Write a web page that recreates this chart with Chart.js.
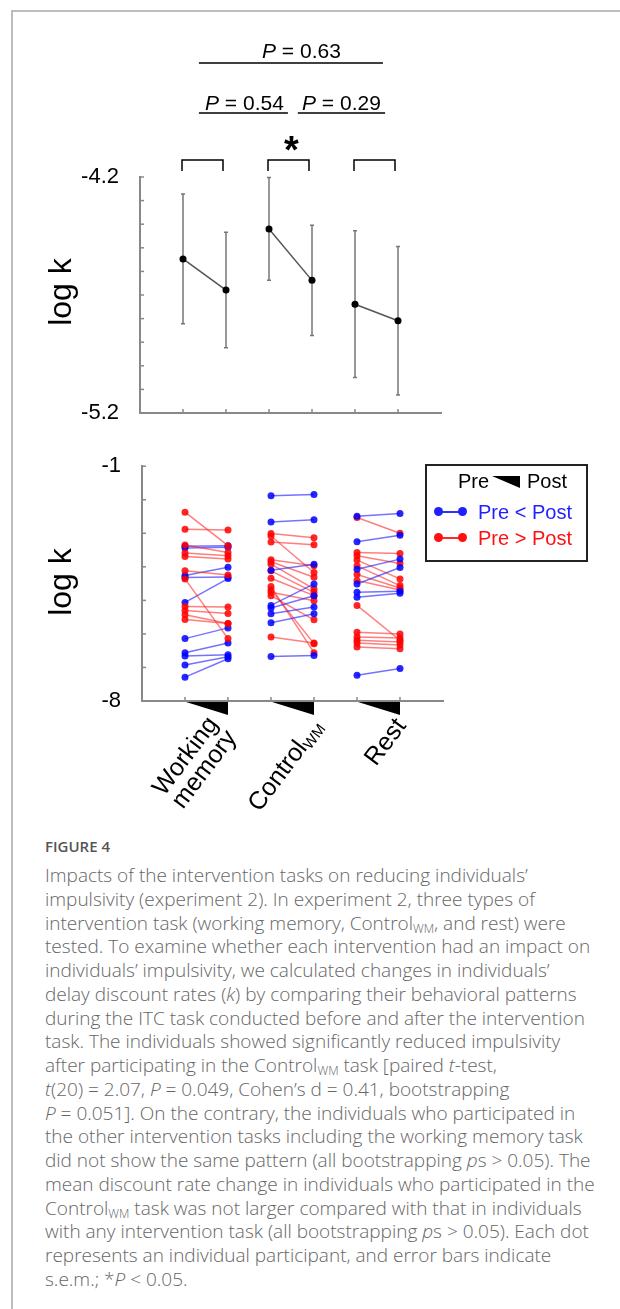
<!DOCTYPE html>
<html>
<head>
<meta charset="utf-8">
<script src="https://cdn.jsdelivr.net/npm/chart.js@4.4.1/dist/chart.umd.min.js"></script>
<style>
  body { margin: 0; background: #fff; }
  #page { position: relative; width: 620px; height: 1309px; overflow: hidden; font-family: 'Liberation Sans', Arial, sans-serif; }
  #frame { position: absolute; left: 11px; top: 10px; width: 640px; height: 1320px; border-top: 2px solid #bdbdbd; border-left: 2px solid #bdbdbd; }
  canvas { position: absolute; left: 0; }
  .abs { position: absolute; white-space: nowrap; }
  .ptxt { font-size: 21px; line-height: 21px; color: #000; }
  .ylab { font-size: 32px; line-height: 32px; color: #000; transform: translate(-50%, -50%) rotate(-90deg); }
  .xlab { font-size: 25px; line-height: 23px; color: #000; text-align: right; transform: translate(-100%, 0) rotate(-53deg); transform-origin: 100% 0; }
  .xlab sub { font-size: 15px; vertical-align: -3px; line-height: 0; }
  #legend { position: absolute; left: 425px; top: 464px; width: 159px; height: 94px; border: 2px solid #222; font-size: 20px; }
  #legend div { position: absolute; white-space: nowrap; line-height: 20px; }
  .tri { width: 0; height: 0; border-top: 12px solid #000; border-left: 28px solid transparent; }
  .seg { height: 2px; }
  .dot { width: 9px; height: 9px; border-radius: 50%; }
  #cap { position: absolute; left: 45px; top: 835px; color: #666; font-family: 'Open Sans', 'Noto Sans', sans-serif; }
  #cap .fig { font-size: 15px; font-weight: 600; color: #555; line-height: 22px; }
  #cap .body { font-size: 19px; line-height: 23.75px; font-weight: 300; margin-top: 7px; white-space: nowrap; }
  #cap sub { font-size: 12px; vertical-align: -3px; line-height: 0; }
</style>
</head>
<body>
<div id="page">
  <div id="frame"></div>
  <canvas id="topChart" width="620" height="440" style="top:0"></canvas>
  <canvas id="botChart" width="620" height="300" style="top:440px"></canvas>

  <div class="abs ptxt" style="left:262px; top:40px"><i>P</i> = 0.63</div>
  <div class="abs ptxt" style="left:205px; top:92px"><i>P</i> = 0.54</div>
  <div class="abs ptxt" style="left:302px; top:92px"><i>P</i> = 0.29</div>
  <div class="abs" style="left:284px; top:131px; font-size:38px; line-height:38px; font-weight:bold">*</div>

  <div class="abs ylab" style="left:60px; top:292px">log k</div>
  <div class="abs ylab" style="left:60px; top:582px">log k</div>

  <div class="abs xlab" style="left:203px; top:712px">Working<br>memory</div>
  <div class="abs xlab" style="left:308px; top:715px">Control<sub>WM</sub></div>
  <div class="abs xlab" style="left:391px; top:714px">Rest</div>

  <div id="legend">
    <div style="left:31px; top:5px; color:#000">Pre</div>
    <div class="tri" style="left:65px; top:10px"></div>
    <div style="left:100px; top:5px; color:#000">Post</div>
    <div class="seg" style="left:12px; top:45px; width:24px; background:#3030ff"></div>
    <div class="dot" style="left:7px; top:41px; background:#1f1fff"></div>
    <div class="dot" style="left:31px; top:41px; background:#1f1fff"></div>
    <div style="left:51px; top:36px; color:#1f1fff">Pre &lt; Post</div>
    <div class="seg" style="left:12px; top:71px; width:24px; background:#ff2a2a"></div>
    <div class="dot" style="left:7px; top:67px; background:#ff1010"></div>
    <div class="dot" style="left:31px; top:67px; background:#ff1010"></div>
    <div style="left:51px; top:62px; color:#ff1010">Pre &gt; Post</div>
  </div>

  <div id="cap">
    <div class="fig">FIGURE 4</div>
    <div class="body">Impacts of the intervention tasks on reducing individuals’<br>impulsivity (experiment 2). In experiment 2, three types of<br>intervention task (working memory, Control<sub>WM</sub>, and rest) were<br>tested. To examine whether each intervention had an impact on<br>individuals’ impulsivity, we calculated changes in individuals’<br>delay discount rates (<i>k</i>) by comparing their behavioral patterns<br>during the ITC task conducted before and after the intervention<br>task. The individuals showed significantly reduced impulsivity<br>after participating in the Control<sub>WM</sub> task [paired <i>t</i>-test,<br><i>t</i>(20) = 2.07, <i>P</i> = 0.049, Cohen’s d = 0.41, bootstrapping<br><i>P</i> = 0.051]. On the contrary, the individuals who participated in<br>the other intervention tasks including the working memory task<br>did not show the same pattern (all bootstrapping <i>p</i>s &gt; 0.05). The<br>mean discount rate change in individuals who participated in the<br>Control<sub>WM</sub> task was not larger compared with that in individuals<br>with any intervention task (all bootstrapping <i>p</i>s &gt; 0.05). Each dot<br>represents an individual participant, and error bars indicate<br>s.e.m.; *<i>P</i> &lt; 0.05.</div>
  </div>
</div>

<script>
// groups and x positions (pre, post) for each
const groups = ['Working memory', 'Control WM', 'Rest'];
const prePos = [1, 3, 5];
const postPos = [2, 4, 6];

// top panel: group means and s.e.m. of log k
const meanPre = [-4.547, -4.420, -4.739];
const meanPost = [-4.679, -4.638, -4.809];
const semPre = [0.275, 0.218, 0.311];
const semPost = [0.245, 0.234, 0.315];
const topMin = -5.2, topMax = -4.2;

// bottom panel: individual log k, pre and post
const wmPre  = [-2.37, -2.88, -3.35, -3.59, -3.69, -4.12, -4.36, -5.18, -5.30, -5.43, -5.57, -3.39, -3.44, -4.26, -4.32, -5.06, -6.14, -6.56, -6.66, -6.93, -7.29];
const wmPost = [-3.37, -2.90, -3.57, -3.67, -3.77, -4.24, -6.14, -5.20, -5.39, -5.69, -5.69, -3.37, -3.42, -4.01, -4.30, -4.35, -5.82, -6.27, -6.62, -6.68, -6.74];
const ctlPre  = [-1.88, -2.66, -4.10, -5.15, -5.23, -5.40, -5.67, -6.67, -3.01, -3.08, -3.26, -3.79, -3.85, -3.92, -4.12, -4.34, -4.59, -4.68, -4.76, -4.86, -6.09];
const ctlPost = [-1.84, -2.60, -3.92, -4.51, -4.86, -5.20, -5.40, -6.64, -3.13, -4.17, -3.34, -3.97, -4.31, -4.66, -4.76, -4.86, -6.56, -6.29, -5.01, -5.58, -6.27];
const restPre  = [-2.49, -3.25, -4.07, -4.51, -4.91, -4.76, -7.23, -2.53, -3.57, -3.67, -3.80, -3.97, -4.23, -4.41, -5.15, -5.95, -6.09, -6.19, -6.27, -6.39];
const restPost = [-2.41, -3.06, -3.77, -4.02, -4.79, -4.73, -7.03, -3.00, -3.60, -3.90, -4.36, -4.56, -4.63, -4.69, -6.19, -6.00, -6.12, -6.24, -6.33, -6.44];
const botMin = -8, botMax = -1;

Chart.defaults.font.family = "'Liberation Sans', Arial, sans-serif";
Chart.defaults.color = '#000';

const axisColor = '#888';
const xTicks = prePos.flatMap((p, i) => [p, postPos[i]]);

// tick marks pointing into the plot
const innerTicks = {
    id: 'innerTicks',
    afterDraw(chart) {
        const { ctx, scales: { x, y } } = chart;
        ctx.save();
        ctx.strokeStyle = axisColor;
        ctx.lineWidth = 1.5;
        y.ticks.forEach(t => {
            const py = y.getPixelForValue(t.value);
            ctx.beginPath(); ctx.moveTo(x.left, py); ctx.lineTo(x.left + 4, py); ctx.stroke();
        });
        x.ticks.forEach(t => {
            const px = x.getPixelForValue(t.value);
            ctx.beginPath(); ctx.moveTo(px, y.bottom); ctx.lineTo(px, y.bottom - 4); ctx.stroke();
        });
        ctx.restore();
    }
};

const errorBars = {
    id: 'errorBars',
    beforeDatasetsDraw(chart) {
        const { ctx, scales: { x, y } } = chart;
        ctx.save();
        ctx.strokeStyle = '#777';
        ctx.lineWidth = 1.5;
        const bar = (xv, m, s) => {
            const px = x.getPixelForValue(xv);
            const y1 = y.getPixelForValue(m + s), y2 = y.getPixelForValue(m - s);
            ctx.beginPath();
            ctx.moveTo(px, y1); ctx.lineTo(px, y2);
            ctx.moveTo(px - 2, y1); ctx.lineTo(px + 2, y1);
            ctx.moveTo(px - 2, y2); ctx.lineTo(px + 2, y2);
            ctx.stroke();
        };
        groups.forEach((g, i) => {
            bar(prePos[i], meanPre[i], semPre[i]);
            bar(postPos[i], meanPost[i], semPost[i]);
        });
        ctx.restore();
    }
};

// brackets and comparison lines above the top panel
const compLines = [[1.37, 5.65, 114], [1.37, 3.44, 64], [3.67, 5.70, 64]];
const brackets = {
    id: 'brackets',
    afterDraw(chart) {
        const { ctx, chartArea, scales: { x } } = chart;
        ctx.save();
        ctx.strokeStyle = '#000';
        ctx.lineWidth = 1.5;
        groups.forEach((g, i) => {
            const a = x.getPixelForValue(prePos[i]) - 1, b = x.getPixelForValue(postPos[i]) - 3;
            const t = chartArea.top - 17, bt = chartArea.top - 6;
            ctx.beginPath();
            ctx.moveTo(a, bt); ctx.lineTo(a, t); ctx.lineTo(b, t); ctx.lineTo(b, bt);
            ctx.stroke();
        });
        compLines.forEach(([a, b, up]) => {
            const py = chartArea.top - up;
            ctx.beginPath();
            ctx.moveTo(x.getPixelForValue(a), py); ctx.lineTo(x.getPixelForValue(b), py);
            ctx.stroke();
        });
        ctx.restore();
    }
};

// black wedges under the bottom axis (pre -> post)
const wedges = {
    id: 'wedges',
    afterDraw(chart) {
        const { ctx, scales: { x, y } } = chart;
        ctx.save();
        ctx.fillStyle = '#000';
        groups.forEach((g, i) => {
            const a = x.getPixelForValue(prePos[i]) + 1, b = x.getPixelForValue(postPos[i]);
            ctx.beginPath();
            ctx.moveTo(a, y.bottom + 1); ctx.lineTo(b, y.bottom + 1); ctx.lineTo(b, y.bottom + 14);
            ctx.closePath(); ctx.fill();
        });
        ctx.restore();
    }
};

const makeScales = (yMin, yMax, step, yWidth, xHeight) => ({
    x: {
        type: 'linear', min: 0, max: 7,
        grid: { display: false },
        border: { display: true, color: axisColor, width: 2 },
        ticks: { display: false },
        afterBuildTicks: s => { s.ticks = xTicks.map(v => ({ value: v })); },
        afterFit: s => { s.height = xHeight; }
    },
    y: {
        min: yMin, max: yMax,
        grid: { display: false },
        border: { display: true, color: axisColor, width: 2 },
        ticks: {
            stepSize: step, autoSkip: false, padding: 13, font: { size: 22 },
            callback: (v, i, t) => (i === 0 || i === t.length - 1) ? String(Math.round(v * 10) / 10) : ''
        },
        afterFit: s => { s.width = yWidth; }
    }
});

const topSets = groups.map((g, i) => ({
    data: [{ x: prePos[i], y: meanPre[i] }, { x: postPos[i], y: meanPost[i] }],
    borderColor: '#555', borderWidth: 1.5,
    pointRadius: 3.5, pointBackgroundColor: '#000', pointBorderWidth: 0
}));

new Chart(document.getElementById('topChart'), {
    type: 'line',
    data: { datasets: topSets },
    options: {
        responsive: false, animation: false, devicePixelRatio: 1,
        layout: { padding: { left: 0, right: 179, top: 177, bottom: 0 } },
        plugins: { legend: { display: false }, tooltip: { enabled: false } },
        scales: makeScales(topMin, topMax, 0.1, 140, 27)
    },
    plugins: [errorBars, innerTicks, brackets]
});

const indiv = [[wmPre, wmPost], [ctlPre, ctlPost], [restPre, restPost]];
const botSets = [];
indiv.forEach(([pre, post], i) => {
    pre.forEach((v, j) => {
        const up = post[j] > v;
        botSets.push({
            data: [{ x: prePos[i], y: v }, { x: postPos[i], y: post[j] }],
            borderColor: up ? 'rgba(40,40,255,0.65)' : 'rgba(255,40,40,0.6)',
            borderWidth: 1.5,
            pointRadius: 3.5,
            pointBackgroundColor: up ? 'rgba(0,0,255,0.85)' : 'rgba(255,0,0,0.85)',
            pointBorderWidth: 0,
            clip: false
        });
    });
});

new Chart(document.getElementById('botChart'), {
    type: 'line',
    data: { datasets: botSets },
    options: {
        responsive: false, animation: false, devicePixelRatio: 1,
        layout: { padding: { left: 0, right: 177, top: 25, bottom: 0 } },
        plugins: { legend: { display: false }, tooltip: { enabled: false } },
        scales: makeScales(botMin, botMax, 1, 142, 39)
    },
    plugins: [innerTicks, wedges]
});
</script>
</body>
</html>
